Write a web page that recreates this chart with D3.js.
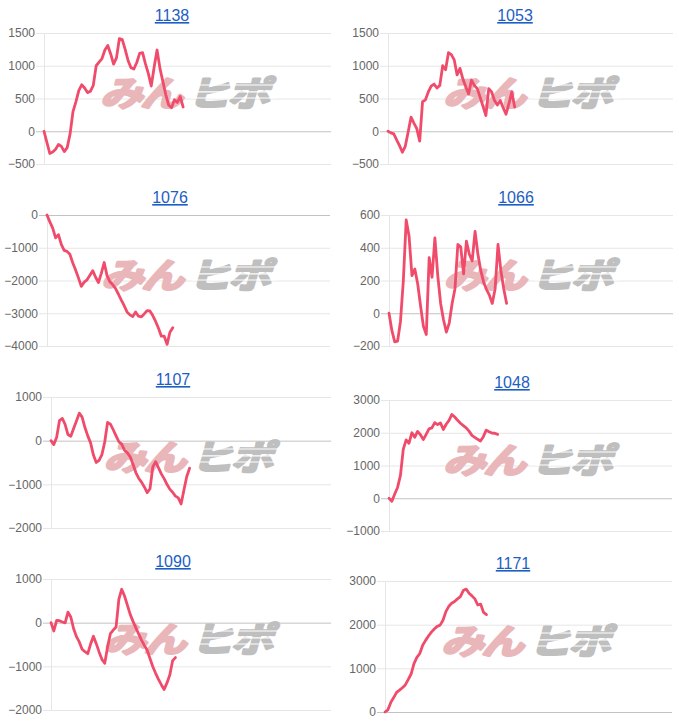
<!DOCTYPE html>
<html><head><meta charset="utf-8">
<script src="https://cdn.jsdelivr.net/npm/d3@7"></script>
<style>body{margin:0;background:#fff}svg{display:block}</style>
</head><body>
<script>
// ---------- data ----------
const titles = ["1138", "1053", "1076", "1066", "1107", "1048", "1090", "1171"];
const slotCount = 100; // number of x-axis slots (labels) in every chart

const s1138 = [0,-170,-340,-318,-275,-200,-230,-310,-250,-40,300,450,620,710,660,590,610,700,1000,1055,1110,1240,1310,1180,1026,1120,1415,1400,1250,1080,970,950,1050,1190,1200,1030,880,690,980,1240,960,760,560,400,360,480,440,530,370];
const s1053 = [0,-25,-40,-130,-220,-320,-230,-10,215,125,40,-150,450,480,600,690,720,660,700,1000,940,1200,1170,1090,860,960,800,680,570,780,700,650,520,380,240,650,600,470,400,470,360,260,420,600,370];
const s1076 = [0,-210,-400,-700,-600,-900,-1080,-1110,-1200,-1460,-1680,-1920,-2180,-2050,-1980,-1840,-1700,-1900,-2060,-1780,-1450,-1850,-2040,-2130,-2250,-2420,-2600,-2770,-2960,-3050,-3100,-2960,-3090,-3110,-3020,-2920,-2930,-3070,-3250,-3460,-3700,-3700,-3950,-3580,-3440];
const s1066 = [0,-105,-175,-170,-50,200,570,470,230,270,180,45,-80,-130,340,220,460,230,60,-40,-115,-60,60,150,420,405,240,440,360,320,500,360,260,190,145,110,60,150,420,260,150,60];
const s1107 = [0,-90,80,460,510,370,140,100,280,450,630,540,300,110,-50,-330,-500,-450,-320,-30,420,380,250,110,-25,-80,-220,-280,-370,-540,-730,-860,-950,-1060,-1190,-1100,-600,-480,-620,-760,-870,-1000,-1110,-1180,-1270,-1310,-1450,-1130,-820,-630];
const s1048 = [0,-90,130,330,700,1500,1780,1680,2000,1860,2040,1940,1790,1950,2120,2150,2310,2250,2300,2100,2260,2380,2560,2480,2380,2290,2220,2150,2050,1920,1860,1800,1750,1880,2080,2030,1990,1985,1950];
const s1090 = [0,-190,50,45,15,-5,240,130,-140,-320,-440,-610,-665,-710,-490,-310,-480,-670,-840,-930,-560,-250,-170,-100,540,765,610,400,190,30,-120,-260,-400,-520,-630,-820,-1010,-1160,-1300,-1420,-1530,-1380,-1200,-870,-800];
const s1171 = [0,50,220,330,450,500,555,620,740,870,1110,1250,1340,1530,1640,1740,1830,1900,1960,1990,2100,2300,2420,2490,2530,2590,2640,2780,2815,2720,2660,2590,2450,2470,2280,2230];

const ticks1138 = [-500, 0, 500, 1000, 1500];
const ticks1053 = [-500, 0, 500, 1000, 1500];
const ticks1076 = [-4000, -3000, -2000, -1000, 0];
const ticks1066 = [-200, 0, 200, 400, 600];
const ticks1107 = [-2000, -1000, 0, 1000];
const ticks1048 = [-1000, 0, 1000, 2000, 3000];
const ticks1090 = [-2000, -1000, 0, 1000];
const ticks1171 = [0, 1000, 2000, 3000];

const seriesList = [s1138, s1053, s1076, s1066, s1107, s1048, s1090, s1171];
const tickList = [ticks1138, ticks1053, ticks1076, ticks1066, ticks1107, ticks1048, ticks1090, ticks1171];

// ---------- layout ----------
const layouts = [
  {left: 44,  right: 331, top: 33,  bottom: 164, tx: 172, ty: 21},
  {left: 388, right: 673, top: 33,  bottom: 164, tx: 515, ty: 21},
  {left: 47,  right: 330, top: 215, bottom: 346, tx: 170, ty: 203},
  {left: 389, right: 673, top: 215, bottom: 346, tx: 516, ty: 203},
  {left: 51,  right: 331, top: 397, bottom: 528, tx: 173, ty: 385},
  {left: 389, right: 672, top: 400, bottom: 531, tx: 512, ty: 388},
  {left: 51,  right: 331, top: 579, bottom: 710, tx: 173, ty: 567},
  {left: 385, right: 672, top: 581, bottom: 712, tx: 513, ty: 569}
];

const W = 679, H = 723;
const lineColor = "#f04b6b";
const svg = d3.select("body").append("svg").attr("width", W).attr("height", H);

seriesList.forEach((series, k) => {
  const L = layouts[k];
  const ticks = tickList[k];
  const g = svg.append("g");

  const x = d3.scaleLinear().domain([0, slotCount - 1]).range([L.left, L.right]);
  const y = d3.scaleLinear().domain(d3.extent(ticks)).range([L.bottom, L.top]);

  // title
  g.append("text")
    .attr("x", L.tx).attr("y", L.ty)
    .attr("text-anchor", "middle")
    .attr("font-family", "'Liberation Sans', Arial, Helvetica, sans-serif")
    .attr("font-size", 16)
    .attr("fill", "#1d5ec4")
    .attr("text-decoration", "underline")
    .text(titles[k]);

  // y axis with grid lines
  const tickLen = L.right - L.left + 8;
  const ax = g.append("g")
    .attr("transform", `translate(${L.right},0)`)
    .call(d3.axisLeft(y).tickValues(ticks).tickSize(tickLen).tickPadding(1).tickFormat(d3.format("d")));
  ax.select(".domain").remove();
  ax.selectAll(".tick line")
    .attr("stroke", d => d === 0 ? "#c2c2c2" : "#e6e6e6")
    .attr("stroke-width", 1);
  ax.selectAll(".tick text")
    .attr("fill", "#666")
    .attr("font-size", 12)
    .attr("font-family", "'Liberation Sans', Arial, Helvetica, sans-serif");

  // vertical axis line
  g.append("line")
    .attr("x1", L.left + 0.5).attr("x2", L.left + 0.5)
    .attr("y1", L.top).attr("y2", L.bottom)
    .attr("stroke", "#e6e6e6");

  // watermark
  const cx = (L.left + L.right) / 2 + 1;
  const cy = (L.top + L.bottom) / 2 - 8;
  const wm = g.append("g").attr("transform", `translate(${cx},${cy}) skewX(-16) scale(1.06,0.86)`);
  const t = wm.append("text")
    .attr("text-anchor", "middle")
    .attr("dominant-baseline", "central")
    .attr("font-family", "'Noto Sans CJK JP', sans-serif")
    .attr("font-weight", 700)
    .attr("font-size", 40)
    .attr("letter-spacing", -2);
  t.append("tspan").attr("fill", "#e9b6ba").attr("stroke", "#e9b6ba")
    .attr("stroke-width", 3).attr("stroke-linejoin", "round").text("みん");
  t.append("tspan").attr("fill", "#bfbfbf").attr("stroke", "#bfbfbf")
    .attr("stroke-width", 3).attr("stroke-linejoin", "round").attr("dx", 6).text("ヒポ");
  [-7, 1, 8].forEach(dy => {
    wm.append("rect").attr("x", 4).attr("y", dy).attr("width", 80).attr("height", 1.3).attr("fill", "#fff");
  });

  // data line
  const line = d3.line().x((d, i) => x(i)).y(d => y(d));
  g.append("path")
    .datum(series)
    .attr("d", line)
    .attr("fill", "none")
    .attr("stroke", lineColor)
    .attr("stroke-width", 2.8)
    .attr("stroke-linejoin", "round")
    .attr("stroke-linecap", "round");
});
</script>
</body></html>
